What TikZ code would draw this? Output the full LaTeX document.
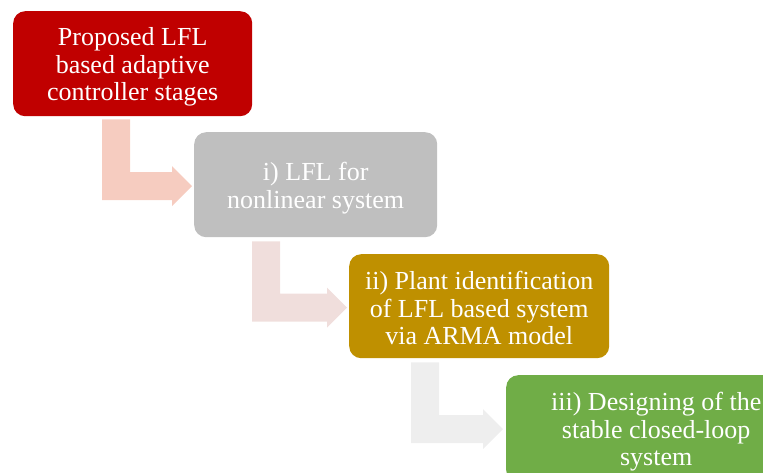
\documentclass[tikz,border=0pt]{standalone}
\usepackage{fontspec}
\setmainfont{Liberation Serif}
\usetikzlibrary{calc}
\definecolor{stageA}{RGB}{192,0,0}
\definecolor{stageB}{RGB}{191,191,191}
\definecolor{stageC}{RGB}{191,144,0}
\definecolor{stageD}{RGB}{112,173,71}
\definecolor{flowA}{RGB}{246,204,192}
\definecolor{flowB}{RGB}{240,222,220}
\definecolor{flowC}{RGB}{238,238,238}
\tikzset{
  stagebox/.style={rectangle, rounded corners=12pt, inner sep=0pt,
    text=white, align=center, anchor=north west,
    font=\fontsize{26}{27.5}\selectfont},
}
% struts that fix the height of the first and the depth of the last line
\newcommand{\toprl}{\rule{0pt}{25pt}}
\newcommand{\botrl}{\rule[-3pt]{0pt}{3pt}}
% bent arrow: #1 colour, #2 start of the vertical shaft (top-left corner),
% #3 tip; shaft width 28pt, head 40pt tall and 20pt long
\newcommand{\bentflow}[3]{%
  \fill[#1] let \p1=(#2), \p2=(#3) in
    (\x1,\y1) -- (\x1+28pt,\y1) -- (\x1+28pt,\y2+14pt) -- (\x2-20pt,\y2+14pt)
    -- (\x2-20pt,\y2+20pt) -- (\x2,\y2) -- (\x2-20pt,\y2-20pt)
    -- (\x2-20pt,\y2-14pt) -- (\x1,\y2-14pt) -- cycle;}
\begin{document}
\begin{tikzpicture}[x=1pt,y=1pt]
\useasboundingbox (0,0) rectangle (763,-472);
\begin{scope}
\clip (0,0) rectangle (763,-472);
% stage boxes
\node[stagebox, fill=stageA, minimum width=239pt, minimum height=105pt] (s1) at (13,-11)
  {\toprl Proposed LFL\\based adaptive\\controller stages\botrl};
\node[stagebox, fill=stageB, minimum width=243pt, minimum height=105pt] (s2) at (194,-132)
  {\toprl i) LFL for\\nonlinear system\botrl};
\node[stagebox, fill=stageC, minimum width=260pt, minimum height=104pt] (s3) at (349,-254)
  {\toprl ii) Plant identification\\of LFL based system\\via ARMA model\botrl};
\node[stagebox, fill=stageD, minimum width=300pt, minimum height=107pt] (s4) at (506,-375)
  {\toprl iii) Designing of the\\stable closed-loop\\system\botrl};
% arrow anchors
\coordinate (a1s) at ($(s1.south west)+(89,-3)$);
\coordinate (a1t) at ($(s2.west)+(-2,-1.5)$);
\coordinate (a2s) at ($(s2.south west)+(58,-4)$);
\coordinate (a2t) at ($(s3.west)+(-2,-1.5)$);
\coordinate (a3s) at ($(s3.south west)+(62,-4)$);
\coordinate (a3t) at ($(s4.north west)+(-3,-54)$);
\bentflow{flowA}{a1s}{a1t}
\bentflow{flowB}{a2s}{a2t}
\bentflow{flowC}{a3s}{a3t}
\end{scope}
\end{tikzpicture}
\end{document}
